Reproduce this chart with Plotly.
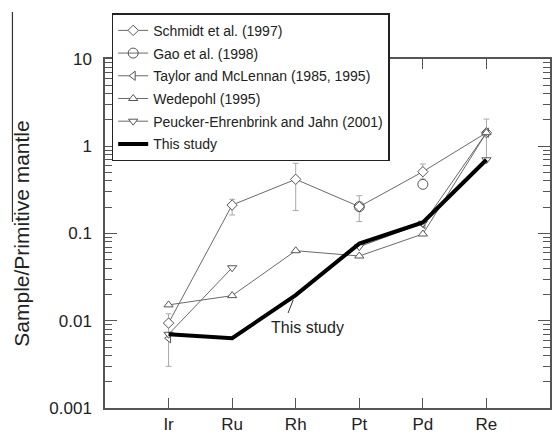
import plotly.graph_objects as go
import math

elements = ["Ir", "Ru", "Rh", "Pt", "Pd", "Re"]
xpos = [0, 1, 2, 3, 4, 5]

schmidt = [0.0094, 0.212, 0.418, 0.203, 0.511, 1.43]
schmidt_hi = [0.0120, 0.247, 0.638, 0.271, 0.626, 2.05]
schmidt_lo = [0.0030, 0.163, 0.183, 0.137, 0.42, 0.70]
gao = [None, None, None, 0.203, 0.366, None]
taylor = [0.0063, None, None, None, 0.128, 1.43]
wedepohl = [0.0152, 0.0194, 0.0635, 0.0552, 0.0987, 1.43]
peucker = [0.0070, 0.0405, None, 0.0706, 0.131, 0.70]
this_study = [0.0070, 0.0063, 0.0197, 0.0765, 0.134, 0.70]

ytick_vals = [0.001, 0.01, 0.1, 1, 10]
ytick_text = ["0.001", "0.01", "0.1", "1", "10"]

FONT = "Liberation Sans, Arial, sans-serif"
LINE = "#6a6a6a"
MK = "#555555"
AX = "#555555"

# Gao points are not joined in the plot: separate them with gaps
gao_x, gao_y = [], []
for xv, yv in zip(xpos, gao):
    if yv is not None:
        if gao_x:
            gao_x.append(None)
            gao_y.append(None)
        gao_x.append(xv)
        gao_y.append(yv)

fig = go.Figure()

def mk(symbol, size=8, fill="white"):
    return dict(symbol=symbol, size=size, color=fill, line=dict(color=MK, width=1))

err_plus = [h - v for h, v in zip(schmidt_hi, schmidt)]
err_minus = [v - l for v, l in zip(schmidt, schmidt_lo)]

fig.add_trace(go.Scatter(
    x=xpos, y=schmidt, mode="lines+markers", name="Schmidt et al. (1997)",
    line=dict(color=LINE, width=1), marker=mk("diamond", 8),
    error_y=dict(type="data", array=err_plus, arrayminus=err_minus, symmetric=False,
                 color="#a8a8a8", thickness=1, width=3),
    legendgroup="a"))
fig.add_trace(go.Scatter(
    x=gao_x, y=gao_y, mode="lines+markers", name="Gao et al. (1998)",
    line=dict(color=LINE, width=1),
    marker=dict(symbol="circle-open", size=10, color=MK, line=dict(width=1)),
    connectgaps=False, legendgroup="b"))
fig.add_trace(go.Scatter(
    x=xpos, y=taylor, mode="lines+markers", name="Taylor and McLennan (1985, 1995)",
    line=dict(color=LINE, width=1), marker=mk("triangle-left", 8), legendgroup="c"))
fig.add_trace(go.Scatter(
    x=xpos, y=wedepohl, mode="lines+markers", name="Wedepohl (1995)",
    line=dict(color=LINE, width=1), marker=mk("triangle-up", 8), legendgroup="d"))
fig.add_trace(go.Scatter(
    x=xpos, y=peucker, mode="lines+markers", name="Peucker-Ehrenbrink and Jahn (2001)",
    line=dict(color=LINE, width=1), marker=mk("triangle-down", 8), legendgroup="e"))
fig.add_trace(go.Scatter(
    x=xpos, y=this_study, mode="lines", name="This study",
    line=dict(color="black", width=4), legendgroup="f"))

fig.add_annotation(x=2.18, y=math.log10(0.00848), text="This study", showarrow=False,
                   font=dict(family=FONT, size=16, color="#222"))
fig.add_shape(type="line", xref="x", yref="y", x0=1.88, y0=0.01227, x1=1.96, y1=0.0173,
              line=dict(color="#333", width=1))
# thin vertical line at far left present in the reference image
fig.add_shape(type="line", xref="paper", yref="paper", x0=-0.208, x1=-0.208, y0=0.533, y1=1.1347,
              line=dict(color="#333", width=1.2), layer="above")

fig.update_layout(
    width=553, height=436,
    margin=dict(l=105, r=1, t=59, b=28),
    paper_bgcolor="white", plot_bgcolor="white",
    font=dict(family=FONT, size=17, color="#222"),
    showlegend=True,
    legend=dict(x=0.015, y=1.131, xanchor="left", yanchor="top",
                bgcolor="white", bordercolor="#222", borderwidth=1.5,
                font=dict(family=FONT, size=14, color="#222"),
                tracegroupgap=1.5, itemwidth=30),
)
fig.update_xaxes(
    range=[-1, 6], tickvals=xpos, ticktext=elements, showgrid=False, zeroline=False,
    showline=True, linecolor=AX, linewidth=1.5, mirror="ticks",
    ticks="inside", ticklen=10, tickcolor=AX, tickwidth=1,
    tickfont=dict(size=17), ticklabelstandoff=0,
)
fig.update_yaxes(
    type="log", range=[-3, 1], tickvals=ytick_vals, ticktext=ytick_text, showgrid=False,
    zeroline=False, showline=True, linecolor=AX, linewidth=1.5, mirror="ticks",
    ticks="inside", ticklen=12, tickcolor=AX, tickwidth=1,
    minor=dict(ticks="inside", ticklen=7, dtick="D1", tickcolor=AX, showgrid=False),
    tickfont=dict(size=17), ticklabelstandoff=8,
    title=dict(text="Sample/Primitive mantle", font=dict(size=21), standoff=14),
)

fig.write_html("out.html", config={"displayModeBar": False},
               post_script="document.body.style.margin='0';")
